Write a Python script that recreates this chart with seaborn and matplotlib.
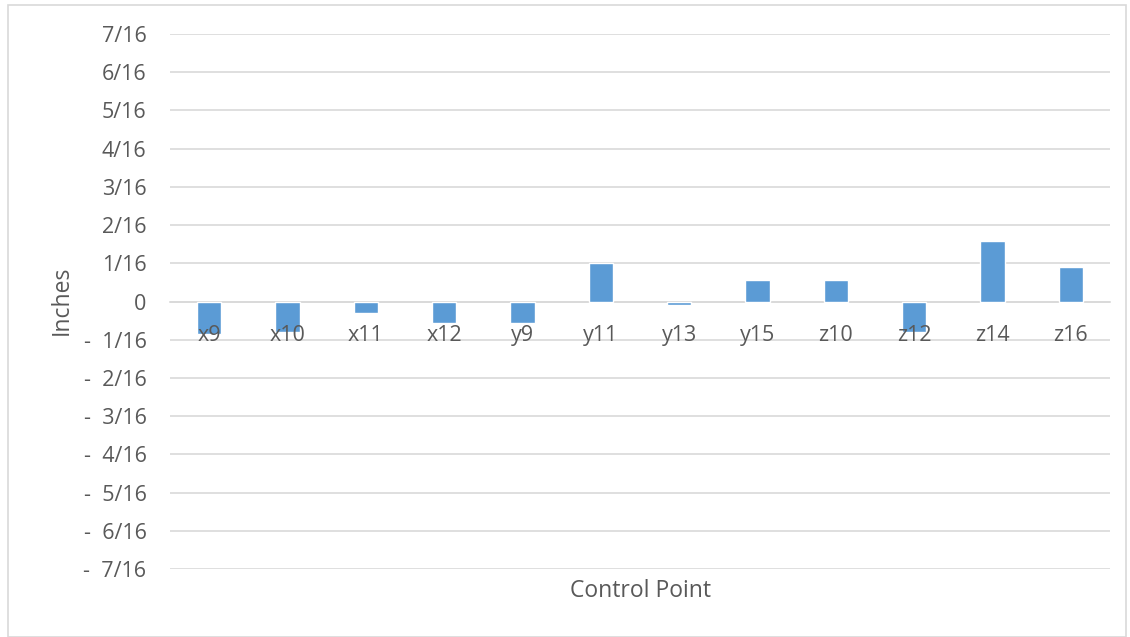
import numpy as np
import pandas as pd
import matplotlib
matplotlib.use("Agg")
import matplotlib.pyplot as plt
import seaborn as sns
from matplotlib.patches import Rectangle
from matplotlib.ticker import FixedLocator, FuncFormatter

# ---------------------------------
# Data (deviation in inches)
# ---------------------------------

control_points = ["x9", "x10", "x11", "x12", "y9", "y11",
                  "y13", "y15", "z10", "z12", "z14", "z16"]

sixteenths = [-0.86, -0.80, -0.31, -0.57, -0.55, 1.02,
              -0.08, 0.57, 0.55, -0.80, 1.59, 0.90]

inches = [v / 16 for v in sixteenths]

tick_sixteenths = list(range(-7, 8))

BAR_COLOR = "#5B9BD5"
TEXT_COLOR = "#595959"
GRID_COLOR = "#D9D9D9"

# ---------------------------------
# Plot
# ---------------------------------

sns.set_style("white")
plt.rcParams["font.family"] = ["Open Sans", "DejaVu Sans"]

df = pd.DataFrame({"Control Point": control_points, "Inches": inches})

fig = plt.figure(figsize=(11.3, 6.37), dpi=100)
ax = fig.add_axes([170 / 1130, 1 - 569 / 637, 940 / 1130, 535 / 637])

sns.barplot(
    data=df,
    x="Control Point",
    y="Inches",
    order=control_points,
    color=BAR_COLOR,
    saturation=1,
    width=0.31,
    ax=ax,
    zorder=3
)

ax.set_ylim(-7 / 16, 7 / 16)
ax.set_xlim(-0.5, len(control_points) - 0.5)

ax.yaxis.set_major_locator(FixedLocator([t / 16 for t in tick_sixteenths]))


def frac_label(v, pos):
    n = int(round(v * 16))
    if n == 0:
        return "0"
    if n < 0:
        return f"-  {abs(n)}/16"
    return f"{n}/16"


ax.yaxis.set_major_formatter(FuncFormatter(frac_label))
ax.grid(axis="y", color=GRID_COLOR, linewidth=1.2, zorder=0)
ax.grid(axis="x", visible=False)

for side in ["top", "right", "left"]:
    ax.spines[side].set_visible(False)

ax.spines["bottom"].set_position(("data", 0))
ax.spines["bottom"].set_color(GRID_COLOR)
ax.spines["bottom"].set_linewidth(1.2)
ax.spines["bottom"].set_zorder(1)

# category labels sit on top of the bars, as in the original
ax.xaxis.set_zorder(4)
ax.tick_params(axis="x", length=0, pad=17, labelsize=15.5, labelcolor=TEXT_COLOR)
ax.tick_params(axis="y", length=0, pad=17, labelsize=15.5, labelcolor=TEXT_COLOR)

ax.set_xlabel("")
ax.set_ylabel("")
fig.text(62 / 1130, 1 - 300 / 637, "Inches", rotation=90, ha="center",
         va="center", fontsize=16.5, color=TEXT_COLOR)
fig.text(640 / 1130, 1 - 591 / 637, "Control Point", ha="center",
         va="center", fontsize=16.5, color=TEXT_COLOR)

# outer chart border
fig.patches.append(Rectangle((8 / 1130, 0.0), 1 - 12 / 1130, 1 - 5 / 637,
                             transform=fig.transFigure, fill=False,
                             edgecolor=GRID_COLOR, linewidth=1.2))

fig.savefig("out.png", dpi=100)
